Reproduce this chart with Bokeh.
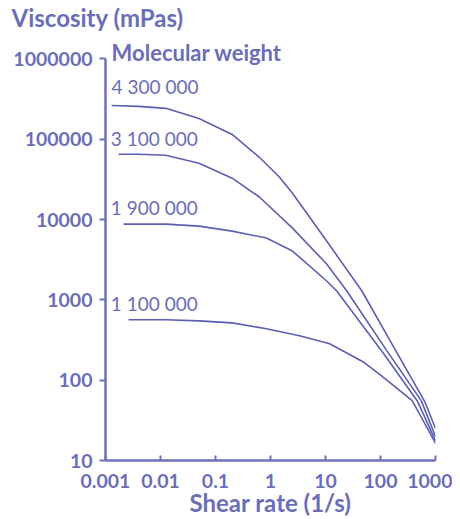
from bokeh.plotting import figure
from bokeh.models import FixedTicker, Label, Range1d, Title
from bokeh.embed import file_html
from bokeh.resources import INLINE

# ---- data ----
shear_43 = [0.00129, 0.00401, 0.0125, 0.0501, 0.201, 0.627, 1.46, 2.51, 10.5, 45.9, 169, 652, 1000]
visc_43 = [264000, 257000, 243000, 182000, 115000, 59700, 33700, 21300, 5410, 1290, 268, 52.5, 25]

shear_31 = [0.00173, 0.00401, 0.0125, 0.0501, 0.201, 0.627, 2.51, 10.5, 24.4, 131, 550, 1000]
visc_31 = [65100, 65100, 63200, 50400, 32800, 19100, 7830, 2800, 1290, 232, 55.6, 19.9]

shear_19 = [0.00213, 0.0125, 0.0501, 0.201, 0.841, 2.51, 10.5, 16.0, 111, 464, 1000]
visc_19 = [8790, 8790, 8300, 7190, 5890, 4060, 1720, 1290, 220, 55.6, 17.7]

shear_11 = [0.00263, 0.0125, 0.0501, 0.201, 0.841, 3.37, 11.9, 47.9, 97.9, 377, 804, 1000]
visc_11 = [565, 565, 548, 518, 437, 357, 284, 170, 117, 55.6, 21.6, 16.3]

series_labels = ["4 300 000", "3 100 000", "1 900 000", "1 100 000"]
label_x = [0.00129, 0.00125, 0.00125, 0.00125]
label_y = [455000, 103000, 14300, 891]

x_ticks = [0.001, 0.01, 0.1, 1, 10, 100, 1000]
x_tick_labels = ["0.001", "0.01", "0.1", "1", "10", "100", "1000"]
y_ticks = [10, 100, 1000, 10000, 100000, 1000000]
y_tick_labels = ["10", "100", "1000", "10000", "100000", "1000000"]

TEXT = "#6a6eb8"
LINE = "#5b5fb2"
AXIS = "#6d71bd"
FONT = "Lato"

p = figure(width=452, height=519, x_axis_type="log", y_axis_type="log",
           x_range=Range1d(0.001, 1000), y_range=Range1d(10, 2.2e6),
           output_backend="svg", toolbar_location=None,
           min_border_left=105, min_border_right=17, min_border_top=30, min_border_bottom=59)
p.outline_line_color = None
p.grid.visible = False
p.background_fill_color = "white"

for xs, ys in [(shear_43, visc_43), (shear_31, visc_31), (shear_19, visc_19), (shear_11, visc_11)]:
    p.line(xs, ys, line_color=LINE, line_width=1.6)

p.xaxis.ticker = FixedTicker(ticks=x_ticks)
p.yaxis.ticker = FixedTicker(ticks=y_ticks)
p.xaxis.major_label_overrides = {t: l for t, l in zip(x_ticks, x_tick_labels)}
p.yaxis.major_label_overrides = {t: l for t, l in zip(y_ticks, y_tick_labels)}
p.yaxis.bounds = (10, 1000000)

for ax in (p.xaxis[0], p.yaxis[0]):
    ax.axis_line_color = AXIS
    ax.axis_line_width = 2.5
    ax.major_tick_line_color = AXIS
    ax.major_tick_line_width = 2
    ax.minor_tick_line_color = None
    ax.major_label_text_color = TEXT
    ax.major_label_text_font = FONT
    ax.major_label_text_font_size = "19.5px"
    ax.major_label_text_font_style = "bold"

p.xaxis.major_tick_in = 5
p.xaxis.major_tick_out = 0
p.xaxis.major_label_standoff = 13
p.yaxis.major_tick_in = 0
p.yaxis.major_tick_out = 6
p.yaxis.major_label_standoff = 7

p.xaxis.axis_label = "Shear rate (1/s)"
p.xaxis.axis_label_text_color = TEXT
p.xaxis.axis_label_text_font = FONT
p.xaxis.axis_label_text_font_size = "24px"
p.xaxis.axis_label_text_font_style = "bold"
p.xaxis.axis_label_standoff = -3

p.add_layout(Title(text="Viscosity (mPas)", align="left", offset=-94, standoff=0,
                   text_color=TEXT, text_font=FONT, text_font_size="24px",
                   text_font_style="bold"), "above")

p.add_layout(Label(x=0.00129, y=1.2e6, text="Molecular weight", text_color=TEXT,
                   text_font=FONT, text_font_size="22px", text_font_style="bold",
                   text_baseline="middle", text_align="left"))
for lx, ly, txt in zip(label_x, label_y, series_labels):
    p.add_layout(Label(x=lx, y=ly, text=txt, text_color=TEXT, text_font=FONT,
                       text_font_size="19px", text_baseline="middle", text_align="left"))

open("out.html", "w").write(file_html(p, INLINE))
